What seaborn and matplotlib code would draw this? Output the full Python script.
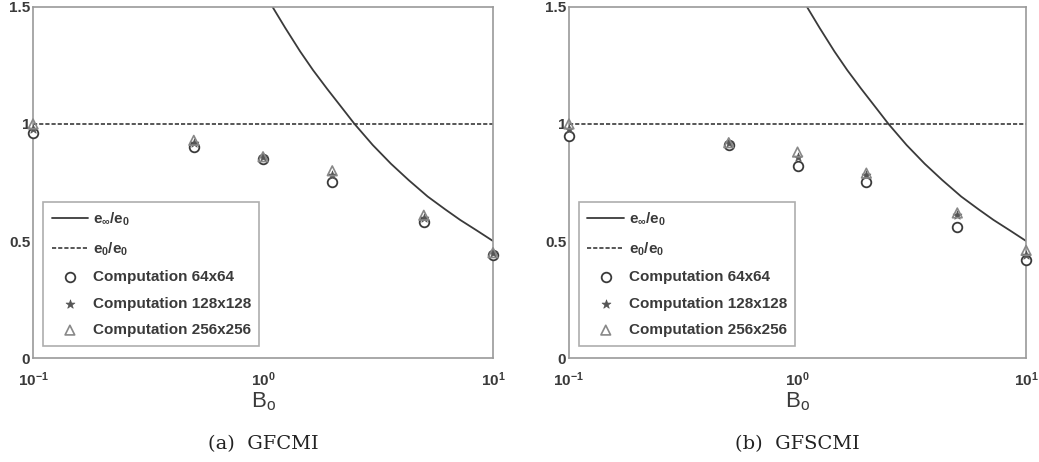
import matplotlib
matplotlib.use("Agg")
import matplotlib.pyplot as plt
import seaborn as sns
import pandas as pd

# Bo values where the computations were run
bo = [0.1, 0.5, 1.0, 2.0, 5.0, 10.0]

# theoretical curve e_inf/e_0
curve_bo = [1.1, 1.25, 1.45, 1.65, 1.9, 2.2, 2.5, 3.0, 3.6, 4.3, 5.2, 6.2, 7.2, 8.5, 10.0]
curve_e = [1.50, 1.41, 1.31, 1.23, 1.15, 1.07, 1.00, 0.91, 0.83, 0.76, 0.69, 0.635, 0.59, 0.545, 0.50]

# e_0/e_0 reference line
ref_bo = [0.1, 10.0]
ref_e = [1.0, 1.0]

# (a) GFCMI
a_64 = [0.96, 0.90, 0.85, 0.75, 0.58, 0.44]
a_128 = [0.98, 0.92, 0.86, 0.78, 0.60, 0.45]
a_256 = [1.00, 0.93, 0.86, 0.80, 0.61, 0.45]

# (b) GFSCMI
b_64 = [0.95, 0.91, 0.82, 0.75, 0.56, 0.42]
b_128 = [0.98, 0.92, 0.86, 0.78, 0.61, 0.44]
b_256 = [1.00, 0.92, 0.88, 0.79, 0.62, 0.46]

captions = ["(a)  GFCMI", "(b)  GFSCMI"]

sns.set_theme(style="white")
plt.rcParams["font.family"] = ["Liberation Sans", "DejaVu Sans"]
plt.rcParams["mathtext.fontset"] = "custom"
plt.rcParams["mathtext.rm"] = "Liberation Sans:bold"
plt.rcParams["mathtext.it"] = "Liberation Sans:bold"
plt.rcParams["mathtext.bf"] = "Liberation Sans:bold"
plt.rcParams["mathtext.default"] = "regular"

ink = "#3a3a3a"
edge = "#9a9a9a"

fig = plt.figure(figsize=(10.39, 4.62), dpi=100)
axes = [fig.add_axes([0.0318, 0.225, 0.4427, 0.76]),
        fig.add_axes([0.5476, 0.225, 0.4400, 0.76])]

panels = [(a_64, a_128, a_256), (b_64, b_128, b_256)]

for ax, (s64, s128, s256), cap in zip(axes, panels, captions):
    curve = pd.DataFrame({"Bo": curve_bo, "e": curve_e})
    sns.lineplot(data=curve, x="Bo", y="e", ax=ax, color=ink, lw=1.3,
                 label=r"$e_{\infty}/e_0$", sort=False)
    sns.lineplot(x=ref_bo, y=ref_e, ax=ax, color=ink, lw=1.2,
                 linestyle=(0, (2.5, 1.2)), label=r"$e_0/e_0$")
    sns.scatterplot(x=bo, y=s64, ax=ax, marker="o", s=48, facecolor="white",
                    edgecolor=ink, linewidth=1.3, label="Computation 64x64",
                    clip_on=False, zorder=3)
    sns.scatterplot(x=bo, y=s128, ax=ax, marker="*", s=45, color="#555555",
                    edgecolor="#555555", linewidth=0.5, label="Computation 128x128",
                    clip_on=False, zorder=4)
    sns.scatterplot(x=bo, y=s256, ax=ax, marker="^", s=48, facecolor="none",
                    edgecolor="#888888", linewidth=1.2, label="Computation 256x256",
                    clip_on=False, zorder=5)

    ax.set_xscale("log")
    ax.set_xlim(0.1, 10)
    ax.set_ylim(0, 1.5)
    ax.set_yticks([0, 0.5, 1, 1.5])
    ax.set_yticklabels(["0", "0.5", "1", "1.5"])
    ax.minorticks_off()
    ax.tick_params(axis="both", direction="in", length=3, color=edge,
                   labelsize=11, labelcolor=ink, pad=2)
    ax.tick_params(axis="x", pad=9, labelsize=11)
    for lab in ax.get_xticklabels() + ax.get_yticklabels():
        lab.set_fontweight("bold")
    for sp in ax.spines.values():
        sp.set_color(edge)
        sp.set_linewidth(1.2)
    ax.set_ylabel("")
    ax.set_xlabel(r"$B_o$", fontsize=16, color=ink, labelpad=1)

    leg = ax.legend(loc="upper left", bbox_to_anchor=(0.022, 0.445),
                    borderaxespad=0, fancybox=False, frameon=True,
                    handlelength=2.4, handletextpad=0.3, labelspacing=0.82,
                    borderpad=0.55, prop={"weight": "bold", "size": 11})
    leg.get_frame().set_edgecolor(edge)
    leg.get_frame().set_linewidth(1.2)
    for t in leg.get_texts():
        t.set_color(ink)

    ax.text(0.5, -0.245, cap, transform=ax.transAxes, ha="center", va="center",
            fontsize=14, family="DejaVu Serif", color="#222222")

fig.savefig("out.png", dpi=100)
